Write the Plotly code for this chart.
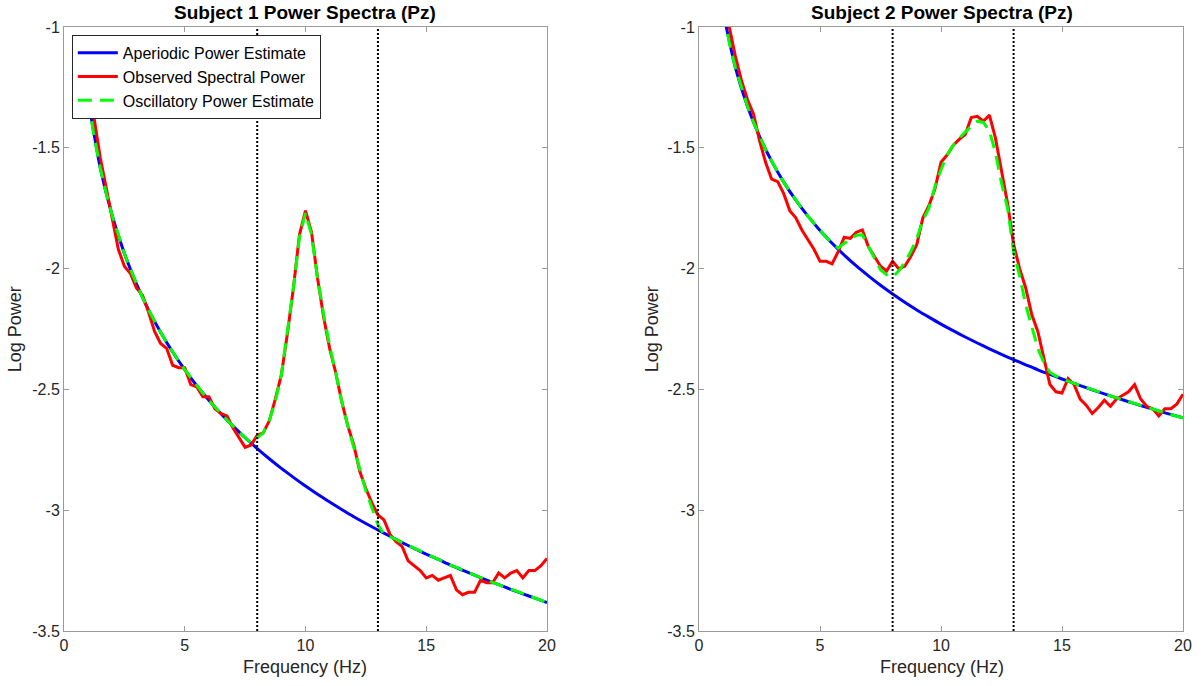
import numpy as np
import plotly.graph_objects as go

# ---------------- data ----------------
freq_fine = [round(v, 2) for v in np.arange(1.0, 20.001, 0.25)]   # 77 bins
freq_ap = [round(v, 2) for v in np.arange(1.0, 20.001, 0.5)]      # 39 bins

s1_aperiodic = [-1.300, -1.582, -1.782, -1.937, -2.063, -2.171, -2.263, -2.345, -2.418, -2.485,
                -2.545, -2.601, -2.652, -2.700, -2.745, -2.787, -2.827, -2.864, -2.900, -2.934,
                -2.966, -2.997, -3.027, -3.055, -3.082, -3.108, -3.134, -3.158, -3.182, -3.204,
                -3.227, -3.248, -3.269, -3.289, -3.308, -3.328, -3.346, -3.364, -3.382]

s1_observed = [-1.15, -1.38, -1.54, -1.67, -1.80, -1.92, -1.99, -2.02, -2.08, -2.11,
               -2.18, -2.26, -2.31, -2.33, -2.40, -2.41, -2.41, -2.48, -2.49, -2.53,
               -2.53, -2.58, -2.60, -2.61, -2.66, -2.70, -2.74, -2.73, -2.69, -2.68,
               -2.63, -2.54, -2.44, -2.27, -2.08, -1.86, -1.76, -1.85, -2.04, -2.20,
               -2.33, -2.43, -2.55, -2.65, -2.73, -2.84, -2.91, -2.97, -3.02, -3.04,
               -3.10, -3.13, -3.15, -3.21, -3.23, -3.25, -3.28, -3.27, -3.29, -3.28,
               -3.27, -3.33, -3.35, -3.34, -3.34, -3.29, -3.30, -3.30, -3.26, -3.28,
               -3.26, -3.25, -3.28, -3.25, -3.25, -3.23, -3.20]

s1_oscillatory = [-1.300, -1.455, -1.582, -1.689, -1.782, -1.864, -1.937, -2.003, -2.063, -2.119,
                  -2.171, -2.218, -2.263, -2.305, -2.345, -2.383, -2.418, -2.452, -2.485, -2.516,
                  -2.545, -2.573, -2.601, -2.627, -2.652, -2.676, -2.700, -2.723, -2.700, -2.680,
                  -2.630, -2.550, -2.440, -2.270, -2.080, -1.870, -1.770, -1.860, -2.040, -2.190,
                  -2.320, -2.430, -2.550, -2.650, -2.740, -2.840, -2.920, -2.990, -3.060, -3.100,
                  -3.110, -3.121, -3.134, -3.146, -3.158, -3.170, -3.182, -3.193, -3.204, -3.216,
                  -3.227, -3.237, -3.248, -3.258, -3.269, -3.279, -3.289, -3.299, -3.308, -3.318,
                  -3.328, -3.337, -3.346, -3.355, -3.364, -3.373, -3.382]

s2_aperiodic = [-0.940, -1.167, -1.328, -1.453, -1.555, -1.642, -1.717, -1.783, -1.842, -1.895,
                -1.944, -1.989, -2.030, -2.069, -2.105, -2.139, -2.171, -2.201, -2.230, -2.257,
                -2.283, -2.308, -2.332, -2.355, -2.377, -2.398, -2.419, -2.438, -2.457, -2.475,
                -2.493, -2.510, -2.527, -2.543, -2.559, -2.574, -2.590, -2.604, -2.618]

s2_observed = [-0.88, -1.00, -1.12, -1.22, -1.30, -1.36, -1.47, -1.56, -1.63, -1.64,
               -1.69, -1.76, -1.79, -1.84, -1.88, -1.92, -1.97, -1.97, -1.98, -1.93,
               -1.87, -1.875, -1.85, -1.84, -1.91, -1.95, -1.99, -2.01, -1.97, -2.00,
               -1.99, -1.95, -1.90, -1.79, -1.74, -1.67, -1.56, -1.53, -1.49, -1.465,
               -1.445, -1.375, -1.37, -1.39, -1.365, -1.46, -1.60, -1.73, -1.90, -2.00,
               -2.08, -2.19, -2.26, -2.37, -2.48, -2.51, -2.515, -2.455, -2.48, -2.54,
               -2.565, -2.60, -2.575, -2.545, -2.57, -2.54, -2.525, -2.51, -2.48, -2.54,
               -2.57, -2.58, -2.61, -2.58, -2.58, -2.56, -2.52]

s2_oscillatory = [-0.940, -1.065, -1.167, -1.253, -1.328, -1.394, -1.453, -1.507, -1.555, -1.600,
                  -1.642, -1.680, -1.717, -1.751, -1.783, -1.813, -1.842, -1.869, -1.895, -1.915,
                  -1.895, -1.878, -1.862, -1.860, -1.910, -1.960, -2.005, -2.025, -2.035, -2.010,
                  -1.975, -1.930, -1.875, -1.800, -1.750, -1.660, -1.590, -1.530, -1.490, -1.460,
                  -1.435, -1.410, -1.390, -1.395, -1.430, -1.520, -1.645, -1.750, -1.930, -2.030,
                  -2.150, -2.240, -2.330, -2.390, -2.430, -2.445, -2.457, -2.466, -2.475, -2.484,
                  -2.493, -2.500, -2.510, -2.520, -2.527, -2.535, -2.543, -2.551, -2.559, -2.567,
                  -2.574, -2.582, -2.590, -2.597, -2.604, -2.611, -2.618]

band_edges = [8, 13]
titles = ["Subject 1 Power Spectra (Pz)", "Subject 2 Power Spectra (Pz)"]
x_ticks = [0, 5, 10, 15, 20]
x_ticktext = ["0", "5", "10", "15", "20"]
y_ticks = [-3.5, -3, -2.5, -2, -1.5, -1]
y_ticktext = ["-3.5", "-3", "-2.5", "-2", "-1.5", "-1"]

# ---------------- figure ----------------
FONT = "Liberation Sans, Arial, Helvetica, sans-serif"
TXT = "#262626"
AXC = "#9a9a9a"

fig = go.Figure()

subjects = [
    (s1_aperiodic, s1_observed, s1_oscillatory, "x", "y", True),
    (s2_aperiodic, s2_observed, s2_oscillatory, "x2", "y2", False),
]
for ap, obs, osc, xa, ya, show in subjects:
    fig.add_trace(go.Scatter(x=freq_ap, y=ap, mode="lines", name="Aperiodic Power Estimate",
                             line=dict(color="#0000ff", width=3, shape="spline", smoothing=0.6),
                             xaxis=xa, yaxis=ya, showlegend=show, legendgroup="a"))
    fig.add_trace(go.Scatter(x=freq_fine, y=obs, mode="lines", name="Observed Spectral Power",
                             line=dict(color="#ff0000", width=3),
                             xaxis=xa, yaxis=ya, showlegend=show, legendgroup="b"))
    fig.add_trace(go.Scatter(x=freq_fine, y=osc, mode="lines", name="Oscillatory Power Estimate",
                             line=dict(color="#00ff00", width=3, dash="14px,8px"),
                             xaxis=xa, yaxis=ya, showlegend=show, legendgroup="c"))
    for b in band_edges:
        fig.add_shape(type="line", xref=xa, yref=ya + " domain", x0=b, x1=b, y0=0, y1=1,
                      line=dict(color="black", width=2, dash="2px,2px"), layer="above")

axis_common = dict(range=[0, 20], tickvals=x_ticks, ticktext=x_ticktext, showgrid=False,
                   zeroline=False, showline=True, linecolor=AXC, linewidth=1, mirror="ticks",
                   ticks="inside", ticklen=5, tickcolor=AXC, tickwidth=1,
                   tickfont=dict(family=FONT, size=16, color=TXT))
yaxis_common = dict(range=[-3.5, -1], tickvals=y_ticks, ticktext=y_ticktext, showgrid=False,
                    zeroline=False, showline=True, linecolor=AXC, linewidth=1, mirror="ticks",
                    ticks="inside", ticklen=5, tickcolor=AXC, tickwidth=1,
                    tickfont=dict(family=FONT, size=16, color=TXT))

L, R, T, B = 64, 14, 27, 55
W, H = 1204, 686
pw = W - L - R
d1 = [0, (550 - L) / pw]
d2 = [(703 - L) / pw, 1]

fig.update_layout(
    width=W, height=H,
    margin=dict(l=L, r=R, t=T, b=B, pad=0),
    paper_bgcolor="white", plot_bgcolor="white",
    xaxis=dict(domain=d1, anchor="y", **axis_common),
    yaxis=dict(domain=[0, 1], anchor="x", **yaxis_common),
    xaxis2=dict(domain=d2, anchor="y2", **axis_common),
    yaxis2=dict(domain=[0, 1], anchor="x2", **yaxis_common),
    legend=dict(x=0.007, y=0.987, xanchor="left", yanchor="top",
                bgcolor="white", bordercolor="#262626", borderwidth=1,
                font=dict(family=FONT, size=16, color="black"), tracegroupgap=0,
                itemwidth=40),
    showlegend=True,
)

def px_to_paper_x(px):
    return (px - L) / pw

def py_to_paper_y(py):
    return 1 - (py - T) / (H - T - B)

ann = []
for title, cx in zip(titles, [307, 947]):
    ann.append(dict(text="<b>" + title + "</b>", x=px_to_paper_x(cx), y=py_to_paper_y(12),
                    xref="paper", yref="paper", showarrow=False, xanchor="center", yanchor="middle",
                    font=dict(family=FONT, size=19, color="black")))
for cx in [307, 947]:
    ann.append(dict(text="Frequency (Hz)", x=px_to_paper_x(cx), y=py_to_paper_y(667),
                    xref="paper", yref="paper", showarrow=False, xanchor="center", yanchor="middle",
                    font=dict(family=FONT, size=18, color=TXT)))
for cx in [15, 656]:
    ann.append(dict(text="Log Power", x=px_to_paper_x(cx), y=py_to_paper_y(329),
                    xref="paper", yref="paper", showarrow=False, xanchor="center", yanchor="middle",
                    textangle=-90, font=dict(family=FONT, size=18, color=TXT)))
fig.update_layout(annotations=ann)

fig.write_html("out.html")
